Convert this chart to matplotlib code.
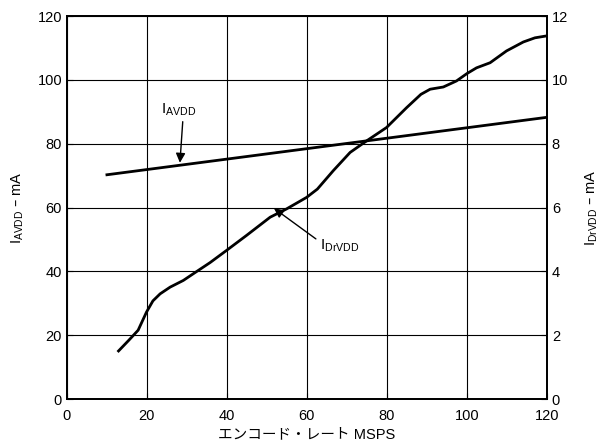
import numpy as np
import matplotlib
matplotlib.use("Agg")
import matplotlib.pyplot as plt

plt.rcParams['font.family'] = ['Liberation Sans', 'Noto Sans CJK JP', 'DejaVu Sans']
plt.rcParams['mathtext.default'] = 'regular'

# encode rate (MSPS) and currents
avdd_x = [10, 120]
avdd_ma = [70.3, 88.3]

drvdd_x = [12.9, 15.5, 17.8, 19.9, 21.5, 23.3, 25.8, 29.1, 31.6, 35.8, 39.9, 44.9, 50.8,
           54.9, 59.9, 62.6, 66.6, 70.8, 74.9, 79.9, 84.9, 88.5, 90.8, 94.1, 97.4,
           100.0, 102.4, 105.8, 109.9, 114.1, 117.0, 119.9]
drvdd_ma = [1.51, 1.85, 2.16, 2.73, 3.08, 3.30, 3.51, 3.72, 3.93, 4.28, 4.66, 5.13, 5.70,
            5.96, 6.32, 6.58, 7.16, 7.73, 8.09, 8.51, 9.13, 9.55, 9.71, 9.78, 9.97,
            10.20, 10.38, 10.54, 10.91, 11.19, 11.32, 11.38]

xticks = [0, 20, 40, 60, 80, 100, 120]
left_ticks = [0, 20, 40, 60, 80, 100, 120]
right_ticks = [0, 2, 4, 6, 8, 10, 12]

fs = 10.5

fig = plt.figure(figsize=(6.03, 4.48), dpi=100)
ax = fig.add_axes([0.111, 0.109, 0.796, 0.855])
ax2 = ax.twinx()

ax.set_xlim(0, 120)
ax.set_ylim(0, 120)
ax2.set_ylim(0, 12)

ax.set_xticks(xticks)
ax.set_yticks(left_ticks)
ax2.set_yticks(right_ticks)
ax.grid(True, color='black', linewidth=0.8)
ax.set_axisbelow(True)

for a in (ax, ax2):
  a.tick_params(direction='in', length=4, width=0.8, labelsize=fs, colors='black')
  for s in a.spines.values():
    s.set_linewidth(1.3)
ax.tick_params(axis='x', pad=7)

ax.plot(avdd_x, avdd_ma, color='black', lw=2)
ax2.plot(drvdd_x, drvdd_ma, color='black', lw=2)

ax.set_xlabel('エンコード・レート MSPS', fontsize=fs, labelpad=3)
ax.set_ylabel('$I_{AVDD}$ – mA', fontsize=fs, labelpad=8)
ax2.set_ylabel('$I_{DrVDD}$ – mA', fontsize=fs, labelpad=11)

ax.annotate('', xy=(28.2, 73.2), xytext=(29.0, 87.8),
            arrowprops=dict(arrowstyle='-|>', color='black', lw=1, mutation_scale=14))
ax.text(23.5, 89.5, '$I_{AVDD}$', fontsize=fs + 0.5)

ax.annotate('', xy=(51.2, 60.3), xytext=(62.8, 49.7),
            arrowprops=dict(arrowstyle='-|>', color='black', lw=1, mutation_scale=14))
ax.text(63.3, 47.0, '$I_{DrVDD}$', fontsize=fs + 0.5)

fig.savefig('out.png', dpi=100)
